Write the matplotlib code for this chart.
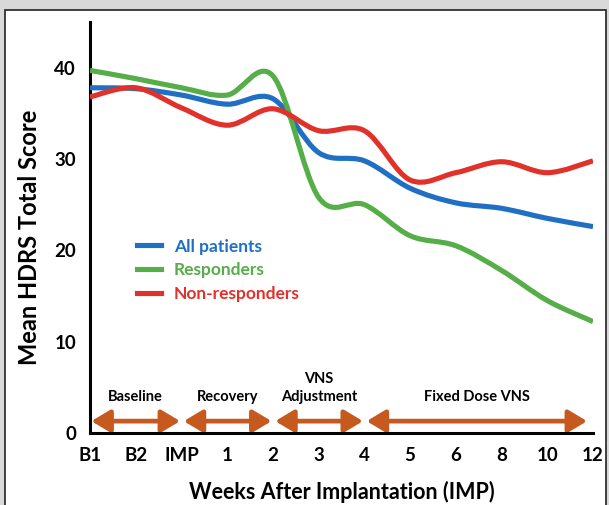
import numpy as np
import matplotlib.pyplot as plt
from matplotlib.path import Path
from matplotlib.patches import PathPatch, Rectangle, FancyArrowPatch
from matplotlib.lines import Line2D

plt.rcParams['font.family'] = ['Lato', 'DejaVu Sans']

# tick labels along the x axis (evenly spaced visits)
weeks = ["B1", "B2", "IMP", "1", "2", "3", "4", "5", "6", "8", "10", "12"]

# mean HDRS total score per visit
all_patients = [37.8, 37.7, 37.0, 36.0, 36.6, 30.7, 29.8, 26.8, 25.2, 24.6, 23.5, 22.6]
responders = [39.7, 38.8, 37.8, 37.0, 39.1, 25.8, 25.0, 21.6, 20.5, 17.8, 14.5, 12.2]
non_responders = [36.8, 37.8, 35.6, 33.7, 35.5, 33.1, 33.1, 27.7, 28.5, 29.7, 28.5, 29.8]

# study phases: label, start index, end index
phases = ["Baseline", "Recovery", "VNS\nAdjustment", "Fixed Dose VNS"]
phase_start = [0.03, 2.05, 4.05, 6.05]
phase_end = [1.97, 3.97, 5.97, 10.87]

series = [
    ("All patients", all_patients, "#1f6fc4"),
    ("Responders", responders, "#55ae47"),
    ("Non-responders", non_responders, "#e1312b"),
]


def smooth_path(xs, ys):
    # Excel-like smoothed line: Catmull-Rom converted to cubic beziers
    pts = np.column_stack([xs, ys]).astype(float)
    n = len(pts)
    verts = [pts[0]]
    codes = [Path.MOVETO]
    for i in range(n - 1):
        p0 = pts[max(i - 1, 0)]
        p1 = pts[i]
        p2 = pts[i + 1]
        p3 = pts[min(i + 2, n - 1)]
        c1 = p1 + (p2 - p0) / 6.0
        c2 = p2 - (p3 - p1) / 6.0
        verts += [c1, c2, p2]
        codes += [Path.CURVE4] * 3
    return Path(verts, codes)


fig = plt.figure(figsize=(6.09, 5.05), dpi=100)
fig.patch.set_facecolor("#d9d9d9")
fig.add_artist(Rectangle((5 / 609, -0.01), 601 / 609, 1 - 10 / 505 + 0.01,
                         transform=fig.transFigure, facecolor="white",
                         edgecolor="#222222", linewidth=1.2, zorder=-10))

ax = fig.add_axes([90 / 609, 1 - 433 / 505, 503 / 609, 411 / 505])
ax.set_facecolor("none")
x = np.arange(len(weeks))

handles = []
for name, vals, col in series:
    ax.add_patch(PathPatch(smooth_path(x, vals), facecolor="none", edgecolor=col,
                           linewidth=3.7, capstyle="butt", zorder=3))
    handles.append(Line2D([], [], color=col, linewidth=3.7, label=name))

for lab, s, e in zip(phases, phase_start, phase_end):
    ax.add_patch(FancyArrowPatch((s, 1.3), (e, 1.3), arrowstyle="<|-|>,head_length=7,head_width=4.2",
                                 color="#c65a1e", linewidth=3.4, mutation_scale=1.6,
                                 shrinkA=0, shrinkB=0, zorder=2))
    ax.text((s + e) / 2, 3.2, lab, ha="center", va="bottom", fontsize=10.5,
            fontweight="bold", linespacing=1.3)

ax.set_xlim(0, 11)
ax.set_ylim(0, 45)
ax.set_xticks(x)
ax.set_xticklabels(weeks)
ax.set_yticks([0, 10, 20, 30, 40])
ax.tick_params(length=0, labelsize=13.5, pad=10)
ax.tick_params(axis="y", pad=10)
for t in ax.get_xticklabels() + ax.get_yticklabels():
    t.set_fontweight("bold")
for side in ["top", "right"]:
    ax.spines[side].set_visible(False)
for side in ["left", "bottom"]:
    ax.spines[side].set_linewidth(2.2)

ax.set_xlabel("Weeks After Implantation (IMP)", fontsize=15.5, fontweight="bold", labelpad=12)
ax.set_ylabel("Mean HDRS Total Score", fontsize=17, fontweight="bold", va="center")
ax.yaxis.set_label_coords(-0.121, 0.477)

leg = ax.legend(handles=handles, loc="upper left", bbox_to_anchor=(0.08, 0.49),
                frameon=False, handlelength=1.4, handletextpad=0.7, borderaxespad=0,
                labelspacing=0.45, labelcolor="linecolor", prop={"weight": "bold", "size": 12.5})

fig.savefig("out.png", dpi=100, facecolor=fig.get_facecolor())
